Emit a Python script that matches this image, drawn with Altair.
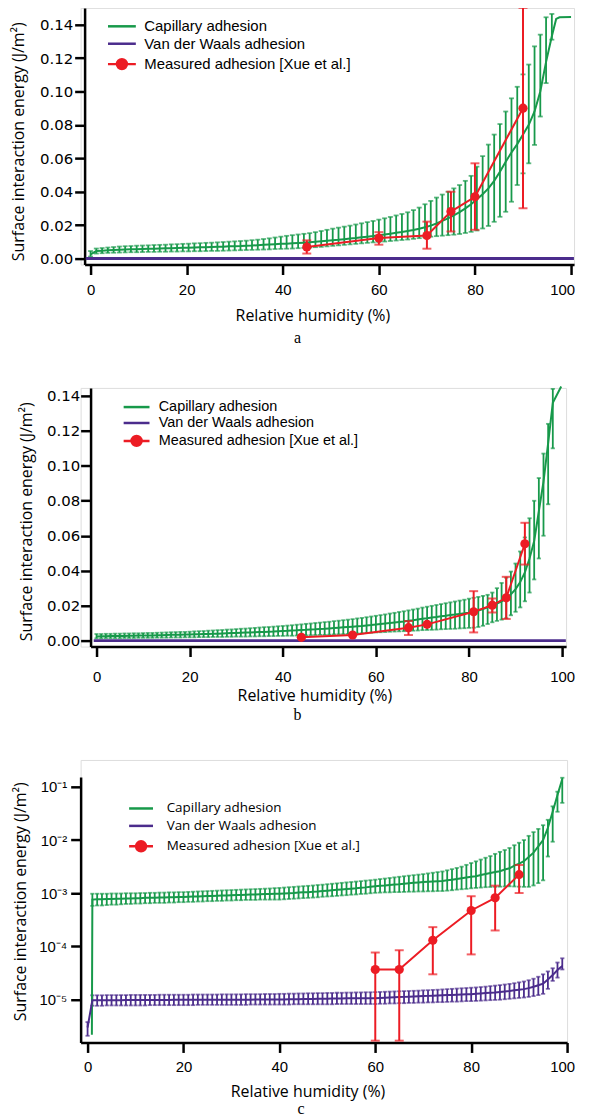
import altair as alt
import pandas as pd

GREEN = "#17994a"
PURPLE = "#4b2c8c"
RED = "#ec1c24"
NAMES = ["Capillary adhesion", "Van der Waals adhesion", "Measured adhesion [Xue et al.]"]
COLORS = [GREEN, PURPLE, RED]

# ---------------- panel a ----------------
a_x = [0.0, 1.2, 2.4, 3.6, 4.8, 6.0, 7.2, 8.4, 9.6, 10.8, 12.0, 13.2, 14.4, 15.6, 16.8, 18.0,
       19.2, 20.4, 21.6, 22.8, 24.0, 25.2, 26.4, 27.6, 28.8, 30.0, 31.2, 32.4, 33.6, 34.8, 36.0,
       37.2, 38.4, 39.6, 40.8, 42.0, 43.2, 44.4, 45.6, 46.8, 48.0, 49.2, 50.4, 51.6, 52.8, 54.0,
       55.2, 56.4, 57.6, 58.8, 60.0, 61.2, 62.4, 63.6, 64.8, 66.0, 67.2, 68.4, 69.6, 70.8, 72.0,
       73.2, 74.4, 75.6, 76.8, 78.0, 79.2, 80.4, 81.6, 82.8, 84.0, 85.2, 86.4, 87.6, 88.8, 90.0,
       91.2, 92.4, 93.6, 94.8, 96.0]
a_cap_hi = [0.0045, 0.0060, 0.0063, 0.0066, 0.0069, 0.0072, 0.0074, 0.0075, 0.0077, 0.0078,
            0.0079, 0.0081, 0.0082, 0.0083, 0.0085, 0.0086, 0.0088, 0.0089, 0.0091, 0.0092,
            0.0094, 0.0095, 0.0097, 0.0099, 0.0101, 0.0103, 0.0105, 0.0107, 0.0110, 0.0113,
            0.0117, 0.0121, 0.0126, 0.0131, 0.0136, 0.0140, 0.0144, 0.0148, 0.0152, 0.0158,
            0.0165, 0.0172, 0.0179, 0.0185, 0.0191, 0.0197, 0.0204, 0.0211, 0.0218, 0.0225,
            0.0233, 0.0241, 0.0249, 0.0258, 0.0267, 0.0277, 0.0290, 0.0305, 0.0325, 0.0345,
            0.0365, 0.0383, 0.0400, 0.0420, 0.0440, 0.0465, 0.0495, 0.0550, 0.0613, 0.0682,
            0.0742, 0.0805, 0.0880, 0.0959, 0.1028, 0.1102, 0.1161, 0.1270, 0.1340, 0.1444,
            0.1464]
a_cap_lo = [0.0012, 0.0030, 0.0032, 0.0034, 0.0035, 0.0036, 0.0037, 0.0038, 0.0038, 0.0039,
            0.0040, 0.0040, 0.0041, 0.0041, 0.0042, 0.0042, 0.0043, 0.0043, 0.0044, 0.0044,
            0.0045, 0.0046, 0.0046, 0.0047, 0.0048, 0.0049, 0.0050, 0.0051, 0.0052, 0.0053,
            0.0054, 0.0055, 0.0057, 0.0058, 0.0059, 0.0060, 0.0062, 0.0064, 0.0066, 0.0068,
            0.0070, 0.0073, 0.0076, 0.0079, 0.0082, 0.0085, 0.0088, 0.0091, 0.0094, 0.0097,
            0.0099, 0.0102, 0.0105, 0.0108, 0.0111, 0.0114, 0.0118, 0.0122, 0.0127, 0.0131,
            0.0134, 0.0137, 0.0140, 0.0143, 0.0147, 0.0153, 0.0160, 0.0168, 0.0180, 0.0195,
            0.0220, 0.0250, 0.0280, 0.0340, 0.0440, 0.0510, 0.0570, 0.0680, 0.0850, 0.1050,
            0.1310]
a_cap_mid = [0.0025, 0.0045, 0.0047, 0.0049, 0.0051, 0.0053, 0.0054, 0.0055, 0.0056, 0.0057,
             0.0058, 0.0059, 0.0060, 0.0061, 0.0062, 0.0063, 0.0064, 0.0065, 0.0066, 0.0067,
             0.0068, 0.0069, 0.0070, 0.0071, 0.0073, 0.0074, 0.0075, 0.0077, 0.0078, 0.0080,
             0.0082, 0.0084, 0.0086, 0.0088, 0.0089, 0.0091, 0.0093, 0.0095, 0.0097, 0.0100,
             0.0103, 0.0106, 0.0109, 0.0112, 0.0116, 0.0120, 0.0123, 0.0127, 0.0131, 0.0135,
             0.0140, 0.0144, 0.0149, 0.0154, 0.0159, 0.0165, 0.0171, 0.0178, 0.0187, 0.0197,
             0.0210, 0.0225, 0.0240, 0.0258, 0.0278, 0.0300, 0.0325, 0.0355, 0.0385, 0.0420,
             0.0465, 0.0520, 0.0580, 0.0635, 0.0685, 0.0742, 0.0800, 0.0880, 0.1000, 0.1177,
             0.1330]
a_cap_tail_x = [96.9, 97.6, 100.0]
a_cap_tail_y = [0.1434, 0.1444, 0.1445]
a_vdw_x = [-1.0, 100.6]
a_vdw_y = [0.0, 0.0]
a_meas_x = [45, 60, 70, 75, 80, 90]
a_meas_y = [0.0069, 0.0123, 0.0138, 0.0281, 0.0370, 0.0900]
a_meas_lo = [0.0030, 0.0083, 0.0059, 0.0162, 0.0172, 0.0301]
a_meas_hi = [0.0109, 0.0158, 0.0221, 0.0400, 0.0570, 0.1500]

# ---------------- panel b ----------------
b_x = list(range(0, 99))
b_cap_hi = [0.0038, 0.0038, 0.0039, 0.0039, 0.0040, 0.0040, 0.0041, 0.0041, 0.0042, 0.0042,
            0.0043, 0.0044, 0.0044, 0.0045, 0.0046, 0.0047, 0.0048, 0.0049, 0.0050, 0.0050,
            0.0051, 0.0053, 0.0054, 0.0055, 0.0057, 0.0058, 0.0060, 0.0061, 0.0063, 0.0064,
            0.0066, 0.0068, 0.0069, 0.0071, 0.0073, 0.0075, 0.0077, 0.0078, 0.0080, 0.0082,
            0.0084, 0.0086, 0.0088, 0.0091, 0.0093, 0.0096, 0.0098, 0.0101, 0.0103, 0.0106,
            0.0108, 0.0111, 0.0114, 0.0117, 0.0120, 0.0123, 0.0127, 0.0130, 0.0134, 0.0138,
            0.0142, 0.0146, 0.0150, 0.0155, 0.0159, 0.0164, 0.0168, 0.0173, 0.0178, 0.0183,
            0.0189, 0.0194, 0.0199, 0.0204, 0.0209, 0.0214, 0.0219, 0.0224, 0.0229, 0.0234,
            0.0240, 0.0245, 0.0250, 0.0256, 0.0262, 0.0275, 0.0300, 0.0330, 0.0360, 0.0395,
            0.0441, 0.0510, 0.0590, 0.0700, 0.0800, 0.0930, 0.1070, 0.1240, 0.1440]
b_cap_lo = [0.0013, 0.0013, 0.0014, 0.0014, 0.0014, 0.0014, 0.0015, 0.0015, 0.0015, 0.0016,
            0.0016, 0.0016, 0.0016, 0.0017, 0.0017, 0.0017, 0.0018, 0.0018, 0.0018, 0.0019,
            0.0019, 0.0019, 0.0020, 0.0020, 0.0020, 0.0021, 0.0021, 0.0021, 0.0022, 0.0022,
            0.0023, 0.0023, 0.0023, 0.0024, 0.0024, 0.0025, 0.0025, 0.0026, 0.0026, 0.0027,
            0.0027, 0.0028, 0.0028, 0.0029, 0.0030, 0.0030, 0.0031, 0.0032, 0.0033, 0.0033,
            0.0034, 0.0035, 0.0036, 0.0037, 0.0038, 0.0039, 0.0041, 0.0042, 0.0044, 0.0045,
            0.0047, 0.0048, 0.0049, 0.0051, 0.0052, 0.0053, 0.0054, 0.0056, 0.0057, 0.0058,
            0.0060, 0.0061, 0.0062, 0.0063, 0.0065, 0.0066, 0.0067, 0.0068, 0.0070, 0.0071,
            0.0073, 0.0074, 0.0078, 0.0085, 0.0095, 0.0105, 0.0113, 0.0120, 0.0128, 0.0145,
            0.0165, 0.0190, 0.0225, 0.0275, 0.0350, 0.0470, 0.0600, 0.0780, 0.1100]
b_cap_mid = [0.0024, 0.0025, 0.0025, 0.0026, 0.0026, 0.0027, 0.0027, 0.0028, 0.0028, 0.0029,
             0.0029, 0.0030, 0.0030, 0.0031, 0.0031, 0.0032, 0.0033, 0.0033, 0.0034, 0.0035,
             0.0035, 0.0036, 0.0037, 0.0038, 0.0038, 0.0039, 0.0040, 0.0041, 0.0042, 0.0043,
             0.0044, 0.0045, 0.0046, 0.0047, 0.0048, 0.0049, 0.0050, 0.0051, 0.0052, 0.0054,
             0.0055, 0.0056, 0.0058, 0.0059, 0.0061, 0.0062, 0.0064, 0.0065, 0.0067, 0.0068,
             0.0070, 0.0072, 0.0074, 0.0076, 0.0078, 0.0080, 0.0082, 0.0084, 0.0087, 0.0089,
             0.0092, 0.0095, 0.0098, 0.0101, 0.0104, 0.0107, 0.0110, 0.0114, 0.0117, 0.0121,
             0.0125, 0.0128, 0.0132, 0.0135, 0.0139, 0.0142, 0.0146, 0.0149, 0.0153, 0.0156,
             0.0160, 0.0165, 0.0172, 0.0180, 0.0190, 0.0200, 0.0212, 0.0225, 0.0240, 0.0265,
             0.0295, 0.0335, 0.0390, 0.0470, 0.0570, 0.0740, 0.0910, 0.1130, 0.1360]
b_cap_tail_x = [99.8]
b_cap_tail_y = [0.1454]
b_vdw_x = [-0.6, 100.8]
b_vdw_y = [0.0, 0.0]
b_meas_x = [44, 55, 67, 71, 81, 85, 88, 92]
b_meas_y = [0.0019, 0.0032, 0.0074, 0.0093, 0.0165, 0.0203, 0.0245, 0.0554]
b_meas_lo = [0.0019, 0.0032, 0.0032, 0.0093, 0.0047, 0.0161, 0.0124, 0.0435]
b_meas_hi = [0.0019, 0.0032, 0.0112, 0.0093, 0.0283, 0.0241, 0.0365, 0.0674]

# ---------------- panel c (log scale) ----------------
c_x = list(range(1, 100))
c_cap_hi = [9.8e-4, 9.8e-4, 9.8e-4, 9.8e-4, 9.9e-4, 9.9e-4, 9.9e-4, 1.0e-3, 1.0e-3, 1.0e-3,
            1.01e-3, 1.01e-3, 1.02e-3, 1.02e-3, 1.03e-3, 1.03e-3, 1.04e-3, 1.04e-3, 1.05e-3, 1.05e-3,
            1.06e-3, 1.07e-3, 1.08e-3, 1.09e-3, 1.10e-3, 1.11e-3, 1.12e-3, 1.13e-3, 1.14e-3, 1.15e-3,
            1.16e-3, 1.17e-3, 1.18e-3, 1.19e-3, 1.20e-3, 1.21e-3, 1.22e-3, 1.23e-3, 1.25e-3, 1.26e-3,
            1.28e-3, 1.30e-3, 1.32e-3, 1.34e-3, 1.36e-3, 1.38e-3, 1.40e-3, 1.43e-3, 1.45e-3, 1.48e-3,
            1.51e-3, 1.54e-3, 1.57e-3, 1.60e-3, 1.63e-3, 1.66e-3, 1.69e-3, 1.73e-3, 1.76e-3, 1.80e-3,
            1.85e-3, 1.89e-3, 1.94e-3, 1.99e-3, 2.04e-3, 2.09e-3, 2.14e-3, 2.19e-3, 2.24e-3, 2.29e-3,
            2.36e-3, 2.43e-3, 2.50e-3, 2.57e-3, 2.70e-3, 2.84e-3, 2.99e-3, 3.16e-3, 3.42e-3, 3.70e-3,
            3.98e-3, 4.30e-3, 4.65e-3, 5.0e-3, 5.5e-3, 6.0e-3, 6.5e-3, 7.1e-3, 8.0e-3, 8.9e-3,
            1.0e-2, 1.2e-2, 1.41e-2, 1.62e-2, 1.9e-2, 2.4e-2, 4.3e-2, 8.1e-2, 0.148]
c_cap_lo = [5.8e-4, 5.9e-4, 5.9e-4, 6.0e-4, 6.1e-4, 6.1e-4, 6.2e-4, 6.3e-4, 6.3e-4, 6.4e-4,
            6.4e-4, 6.5e-4, 6.5e-4, 6.6e-4, 6.6e-4, 6.6e-4, 6.7e-4, 6.7e-4, 6.8e-4, 6.8e-4,
            6.9e-4, 6.9e-4, 7.0e-4, 7.0e-4, 7.1e-4, 7.1e-4, 7.2e-4, 7.2e-4, 7.3e-4, 7.3e-4,
            7.4e-4, 7.4e-4, 7.5e-4, 7.5e-4, 7.5e-4, 7.6e-4, 7.6e-4, 7.6e-4, 7.6e-4, 7.6e-4,
            7.7e-4, 7.8e-4, 7.9e-4, 8.0e-4, 8.1e-4, 8.2e-4, 8.3e-4, 8.4e-4, 8.6e-4, 8.7e-4,
            8.8e-4, 8.9e-4, 9.1e-4, 9.2e-4, 9.4e-4, 9.5e-4, 9.7e-4, 9.8e-4, 1.0e-3, 1.02e-3,
            1.03e-3, 1.04e-3, 1.04e-3, 1.05e-3, 1.05e-3, 1.06e-3, 1.07e-3, 1.07e-3, 1.08e-3, 1.08e-3,
            1.09e-3, 1.09e-3, 1.10e-3, 1.10e-3, 1.12e-3, 1.14e-3, 1.17e-3, 1.19e-3, 1.21e-3, 1.24e-3,
            1.26e-3, 1.28e-3, 1.30e-3, 1.31e-3, 1.32e-3, 1.33e-3, 1.34e-3, 1.35e-3, 1.34e-3, 1.33e-3,
            1.32e-3, 1.32e-3, 1.40e-3, 1.55e-3, 1.75e-3, 4.9e-3, 9.3e-3, 3.4e-2, 5.0e-2]
c_cap_mid = [7.6e-4, 7.7e-4, 7.7e-4, 7.8e-4, 7.8e-4, 7.9e-4, 7.9e-4, 8.0e-4, 8.0e-4, 8.1e-4,
             8.1e-4, 8.2e-4, 8.2e-4, 8.2e-4, 8.3e-4, 8.3e-4, 8.4e-4, 8.4e-4, 8.5e-4, 8.5e-4,
             8.6e-4, 8.7e-4, 8.7e-4, 8.8e-4, 8.9e-4, 8.9e-4, 9.0e-4, 9.1e-4, 9.1e-4, 9.2e-4,
             9.3e-4, 9.3e-4, 9.4e-4, 9.5e-4, 9.5e-4, 9.6e-4, 9.7e-4, 9.7e-4, 9.8e-4, 9.8e-4,
             9.9e-4, 1.0e-3, 1.01e-3, 1.03e-3, 1.04e-3, 1.05e-3, 1.07e-3, 1.08e-3, 1.10e-3, 1.12e-3,
             1.14e-3, 1.16e-3, 1.18e-3, 1.20e-3, 1.22e-3, 1.24e-3, 1.27e-3, 1.29e-3, 1.32e-3, 1.35e-3,
             1.38e-3, 1.40e-3, 1.43e-3, 1.46e-3, 1.48e-3, 1.51e-3, 1.54e-3, 1.57e-3, 1.60e-3, 1.63e-3,
             1.65e-3, 1.67e-3, 1.69e-3, 1.70e-3, 1.75e-3, 1.80e-3, 1.86e-3, 1.92e-3, 1.98e-3, 2.04e-3,
             2.09e-3, 2.2e-3, 2.3e-3, 2.4e-3, 2.5e-3, 2.6e-3, 2.8e-3, 2.95e-3, 3.3e-3, 3.6e-3,
             4.0e-3, 4.8e-3, 5.8e-3, 7.6e-3, 1.0e-2, 1.7e-2, 3.4e-2, 7.0e-2, 0.14]
c_cap_head_x = [0.9]
c_cap_head_y = [2.2e-6]

c_vdw_x = list(range(0, 100))
c_vdw_hi = [3.8e-6,
            1.21e-5, 1.21e-5, 1.21e-5, 1.22e-5, 1.22e-5, 1.22e-5, 1.22e-5, 1.22e-5, 1.23e-5, 1.23e-5,
            1.23e-5, 1.23e-5, 1.23e-5, 1.23e-5, 1.24e-5, 1.24e-5, 1.24e-5, 1.24e-5, 1.24e-5, 1.24e-5,
            1.24e-5, 1.25e-5, 1.25e-5, 1.25e-5, 1.25e-5, 1.25e-5, 1.25e-5, 1.26e-5, 1.26e-5, 1.26e-5,
            1.26e-5, 1.26e-5, 1.27e-5, 1.27e-5, 1.27e-5, 1.27e-5, 1.28e-5, 1.28e-5, 1.28e-5, 1.29e-5,
            1.29e-5, 1.30e-5, 1.30e-5, 1.31e-5, 1.31e-5, 1.32e-5, 1.32e-5, 1.33e-5, 1.33e-5, 1.34e-5,
            1.34e-5, 1.35e-5, 1.35e-5, 1.36e-5, 1.36e-5, 1.37e-5, 1.37e-5, 1.38e-5, 1.38e-5, 1.39e-5,
            1.40e-5, 1.41e-5, 1.42e-5, 1.43e-5, 1.44e-5, 1.45e-5, 1.46e-5, 1.47e-5, 1.48e-5, 1.50e-5,
            1.51e-5, 1.53e-5, 1.54e-5, 1.56e-5, 1.58e-5, 1.60e-5, 1.62e-5, 1.64e-5, 1.66e-5, 1.68e-5,
            1.70e-5, 1.73e-5, 1.76e-5, 1.80e-5, 1.84e-5, 1.88e-5, 1.93e-5, 1.98e-5, 2.04e-5, 2.12e-5,
            2.20e-5, 2.32e-5, 2.48e-5, 2.70e-5, 3.0e-5, 3.4e-5, 3.9e-5, 5.0e-5, 6.0e-5]
c_vdw_lo = [2.1e-6,
            7.7e-6, 7.7e-6, 7.7e-6, 7.8e-6, 7.8e-6, 7.8e-6, 7.8e-6, 7.8e-6, 7.8e-6, 7.8e-6,
            7.8e-6, 7.8e-6, 7.9e-6, 7.9e-6, 7.9e-6, 7.9e-6, 7.9e-6, 7.9e-6, 7.9e-6, 7.9e-6,
            7.9e-6, 7.9e-6, 8.0e-6, 8.0e-6, 8.0e-6, 8.0e-6, 8.0e-6, 8.0e-6, 8.0e-6, 8.0e-6,
            8.0e-6, 8.0e-6, 8.0e-6, 8.1e-6, 8.1e-6, 8.1e-6, 8.1e-6, 8.1e-6, 8.1e-6, 8.1e-6,
            8.1e-6, 8.1e-6, 8.2e-6, 8.2e-6, 8.2e-6, 8.2e-6, 8.2e-6, 8.2e-6, 8.2e-6, 8.2e-6,
            8.2e-6, 8.3e-6, 8.3e-6, 8.3e-6, 8.3e-6, 8.3e-6, 8.3e-6, 8.3e-6, 8.3e-6, 8.3e-6,
            8.4e-6, 8.4e-6, 8.5e-6, 8.5e-6, 8.6e-6, 8.6e-6, 8.7e-6, 8.7e-6, 8.8e-6, 8.8e-6,
            8.9e-6, 8.9e-6, 9.0e-6, 9.0e-6, 9.1e-6, 9.2e-6, 9.2e-6, 9.3e-6, 9.4e-6, 9.4e-6,
            9.5e-6, 9.6e-6, 9.7e-6, 9.8e-6, 9.9e-6, 1.0e-5, 1.02e-5, 1.04e-5, 1.06e-5, 1.08e-5,
            1.10e-5, 1.13e-5, 1.17e-5, 1.22e-5, 1.29e-5, 1.6e-5, 2.26e-5, 2.6e-5, 3.7e-5]
c_vdw_mid = [3.0e-6,
             9.8e-6, 9.8e-6, 9.8e-6, 9.8e-6, 9.8e-6, 9.8e-6, 9.8e-6, 9.9e-6, 9.9e-6, 9.9e-6,
             9.9e-6, 9.9e-6, 9.9e-6, 9.9e-6, 9.9e-6, 9.9e-6, 9.9e-6, 1.0e-5, 1.0e-5, 1.0e-5,
             1.0e-5, 1.0e-5, 1.0e-5, 1.0e-5, 1.0e-5, 1.0e-5, 1.0e-5, 1.0e-5, 1.0e-5, 1.0e-5,
             1.0e-5, 1.0e-5, 1.0e-5, 1.0e-5, 1.01e-5, 1.01e-5, 1.01e-5, 1.01e-5, 1.01e-5, 1.01e-5,
             1.01e-5, 1.02e-5, 1.02e-5, 1.02e-5, 1.03e-5, 1.03e-5, 1.03e-5, 1.04e-5, 1.04e-5, 1.04e-5,
             1.05e-5, 1.05e-5, 1.05e-5, 1.06e-5, 1.06e-5, 1.06e-5, 1.06e-5, 1.07e-5, 1.07e-5, 1.07e-5,
             1.08e-5, 1.09e-5, 1.10e-5, 1.11e-5, 1.12e-5, 1.13e-5, 1.14e-5, 1.15e-5, 1.16e-5, 1.17e-5,
             1.18e-5, 1.19e-5, 1.20e-5, 1.21e-5, 1.22e-5, 1.23e-5, 1.24e-5, 1.25e-5, 1.26e-5, 1.27e-5,
             1.29e-5, 1.31e-5, 1.33e-5, 1.35e-5, 1.37e-5, 1.40e-5, 1.43e-5, 1.46e-5, 1.50e-5, 1.54e-5,
             1.58e-5, 1.65e-5, 1.75e-5, 1.87e-5, 2.0e-5, 2.4e-5, 2.9e-5, 3.6e-5, 4.3e-5]
c_meas_x = [60, 65, 72, 80, 85, 90]
c_meas_y = [3.7e-5, 3.7e-5, 1.31e-4, 4.75e-4, 8.2e-4, 2.24e-3]
c_meas_lo = [1.7e-6, 1.7e-6, 3.0e-5, 7.1e-5, 2.0e-4, 1.01e-3]
c_meas_hi = [7.7e-5, 8.5e-5, 2.31e-4, 8.8e-4, 1.39e-3, 3.4e-3]

Y_TITLE = "Surface interaction energy (J/m²)"
X_TITLE = "Relative humidity (%)"


def bars_df(x, lo, hi):
    return pd.DataFrame({"x": x, "lo": lo, "hi": hi})


def line_df(x, y, name):
    return pd.DataFrame({"x": x, "y": y, "series": name})


def meas_df(x, y, lo, hi):
    return pd.DataFrame({"x": x, "y": y, "lo": lo, "hi": hi, "series": NAMES[2]})


def legend_for(lx, ly, half, font, fsize, loff, rowpad):
    line_path = f"M-{half},0H{half}"
    dot_path = f"M-{half},0H{half}M-1,0A1,1 0 1,1 1,0A1,1 0 1,1 -1,0Z"
    cond = f"datum.value === '{NAMES[2]}'"
    return alt.Legend(
        title=None, orient="none", legendX=lx, legendY=ly, padding=0,
        symbolSize=100, symbolStrokeWidth=2.5, labelFont=font, labelFontSize=fsize,
        labelColor="black", labelOffset=loff, rowPadding=rowpad, labelLimit=400,
        symbolOpacity=1,
        symbolType=alt.ExprRef(expr=f"{cond} ? '{dot_path}' : '{line_path}'"),
        symbolFillColor=alt.ExprRef(expr=f"{cond} ? '{RED}' : 'transparent'"),
    )


def panel(cap_b, cap_l, vdw_b, vdw_l, meas, xs, ys, xa, ya, legend, width, height,
          title, vdw_width, capw):
    X = alt.X("x:Q", scale=xs, axis=xa)

    def Y(f):
        return alt.Y(f + ":Q", scale=ys, axis=ya)

    color = alt.Color("series:N", scale=alt.Scale(domain=NAMES, range=COLORS), legend=legend)
    layers = [
        alt.Chart(cap_b).mark_rule(color=GREEN, strokeWidth=1.8).encode(x=X, y=Y("lo"), y2=alt.Y2("hi")),
        alt.Chart(cap_b).mark_tick(color=GREEN, orient="horizontal", size=capw, thickness=1.8).encode(x=X, y=Y("hi")),
        alt.Chart(cap_b).mark_tick(color=GREEN, orient="horizontal", size=capw, thickness=1.8).encode(x=X, y=Y("lo")),
    ]
    if vdw_b is not None:
        layers += [
            alt.Chart(vdw_b).mark_rule(color=PURPLE, strokeWidth=1.8).encode(x=X, y=Y("lo"), y2=alt.Y2("hi")),
            alt.Chart(vdw_b).mark_tick(color=PURPLE, orient="horizontal", size=capw, thickness=1.8).encode(x=X, y=Y("hi")),
            alt.Chart(vdw_b).mark_tick(color=PURPLE, orient="horizontal", size=capw, thickness=1.8).encode(x=X, y=Y("lo")),
        ]
    layers += [
        alt.Chart(cap_l).mark_line(strokeWidth=2).encode(x=X, y=Y("y"), color=color),
        alt.Chart(vdw_l).mark_line(strokeWidth=vdw_width).encode(x=X, y=Y("y"), color=color),
        alt.Chart(meas).mark_line(strokeWidth=2).encode(x=X, y=Y("y"), color=color),
        alt.Chart(meas).mark_rule(color=RED, strokeWidth=2).encode(x=X, y=Y("lo"), y2=alt.Y2("hi")),
        alt.Chart(meas).mark_tick(color=RED, orient="horizontal", size=9, thickness=2).encode(x=X, y=Y("hi")),
        alt.Chart(meas).mark_tick(color=RED, orient="horizontal", size=9, thickness=2).encode(x=X, y=Y("lo")),
        alt.Chart(meas).mark_circle(color=RED, size=85, opacity=1).encode(x=X, y=Y("y")),
    ]
    return alt.layer(*layers).properties(width=width, height=height, title=title)


def x_axis(tx, ty, lpad, shift100):
    return alt.Axis(values=[0, 20, 40, 60, 80, 100], format="d", title=X_TITLE, grid=False,
                    domainColor="black", domainWidth=2.5, tickColor="black", tickWidth=2.5,
                    tickSize=10, labelFont="Liberation Sans", labelFontSize=15, labelColor="black",
                    labelPadding=lpad, labelFlush=False,
                    labelOffset={"condition": {"test": "datum.value == 100", "value": shift100},
                                 "value": 0},
                    titleFont="Open Sans", titleFontSize=16,
                    titleFontWeight="normal", titleColor="black", titleX=tx, titleY=ty,
                    titleAlign="center", titleBaseline="middle")


def y_axis(values, offset, tx, ty, lfont, lsize, lpad, fmt=None, expr=None):
    kw = dict(values=values, title=Y_TITLE, grid=False, offset=offset,
              domainColor="black", domainWidth=2.5, tickColor="black", tickWidth=2.5,
              tickSize=10, labelFont=lfont, labelFontSize=lsize, labelColor="black",
              labelPadding=lpad, labelFlush=False, titleFont="Open Sans", titleFontSize=16,
              titleFontWeight="normal", titleColor="black", titleX=tx, titleY=ty,
              titleAlign="center", titleBaseline="alphabetic", titleAngle=270)
    if fmt:
        kw["format"] = fmt
    if expr:
        kw["labelExpr"] = expr
    return alt.Axis(**kw)


def cap_title(t, dx, offset):
    return alt.TitleParams(text=t, orient="bottom", font="Liberation Serif", fontSize=16,
                           fontWeight="normal", color="black", anchor="middle", frame="group",
                           dx=dx, offset=offset)


lin_vals = [0, 0.02, 0.04, 0.06, 0.08, 0.10, 0.12, 0.14]

# panel a
pa = panel(
    bars_df(a_x, a_cap_lo, a_cap_hi),
    line_df(a_x + a_cap_tail_x, a_cap_mid + a_cap_tail_y, NAMES[0]),
    None,
    line_df(a_vdw_x, a_vdw_y, NAMES[1]),
    meas_df(a_meas_x, a_meas_y, a_meas_lo, a_meas_hi),
    alt.Scale(domain=[-1.24, 100.62], range=[4, 496], nice=False, zero=False),
    alt.Scale(domain=[-0.0036, 0.150], nice=False, zero=False),
    x_axis(233, 51, 8, -9),
    y_axis(lin_vals, -4, -61, 134, "DejaVu Sans", 15, 2, fmt=".2f"),
    legend_for(34, 11, 2.8, "Liberation Sans", 15, 15, 1.5),
    496, 258, cap_title("a", -30, 7), 3, 5,
)

# panel b
pb = panel(
    bars_df(b_x, b_cap_lo, b_cap_hi),
    line_df(b_x + b_cap_tail_x, b_cap_mid + b_cap_tail_y, NAMES[0]),
    None,
    line_df(b_vdw_x, b_vdw_y, NAMES[1]),
    meas_df(b_meas_x, b_meas_y, b_meas_lo, b_meas_hi),
    alt.Scale(domain=[-1.28, 100.85], range=[10, 488], nice=False, zero=False),
    alt.Scale(domain=[-0.0034, 0.14455], nice=False, zero=False),
    x_axis(235, 49, 13, 0),
    y_axis(lin_vals, -10, -59, 134, "DejaVu Sans", 15, 1, fmt=".2f"),
    legend_for(49, 12, 2.6, "Liberation Sans", 14.5, 15, 1),
    488, 260, cap_title("b", -26, 4), 3, 4.2,
)

# panel c
log_expr = ("'10' + (round(log(datum.value)/LN10) == -1 ? '⁻¹' : "
            "round(log(datum.value)/LN10) == -2 ? '⁻²' : "
            "round(log(datum.value)/LN10) == -3 ? '⁻³' : "
            "round(log(datum.value)/LN10) == -4 ? '⁻⁴' : '⁻⁵')")
C_EXTRA = 17
pc = panel(
    bars_df(c_x, c_cap_lo, c_cap_hi),
    line_df(c_cap_head_x + c_x, c_cap_head_y + c_cap_mid, NAMES[0]),
    bars_df(c_vdw_x, c_vdw_lo, c_vdw_hi),
    line_df(c_vdw_x, c_vdw_mid, NAMES[1]),
    meas_df(c_meas_x, c_meas_y, c_meas_lo, c_meas_hi),
    alt.Scale(domain=[-1.45, 100], range=[0, 489], nice=False, zero=False),
    alt.Scale(type="log", domain=[1.57e-6, 0.1537], range=[267 + C_EXTRA, C_EXTRA], nice=False),
    x_axis(228, 49, 7, -5),
    y_axis([1e-5, 1e-4, 1e-3, 1e-2, 1e-1], 0, -55, C_EXTRA + 125, "Liberation Sans", 15, 4,
           expr=log_expr),
    legend_for(54, C_EXTRA + 25, 2.4, "Open Sans", 13.5, 19, 2.5),
    489, 267 + C_EXTRA, cap_title("c", -23, 2), 2, 4.2,
)

chart = (alt.vconcat(pa, pb, pc, spacing=35,
                     padding={"left": 2, "top": -5, "right": 0, "bottom": 0})
         .resolve_scale(color="independent")
         .resolve_legend(color="independent")
         .configure_view(stroke=None)
         .configure(background="white"))

chart.save("out.html", embed_options={"renderer": "svg", "actions": False})
